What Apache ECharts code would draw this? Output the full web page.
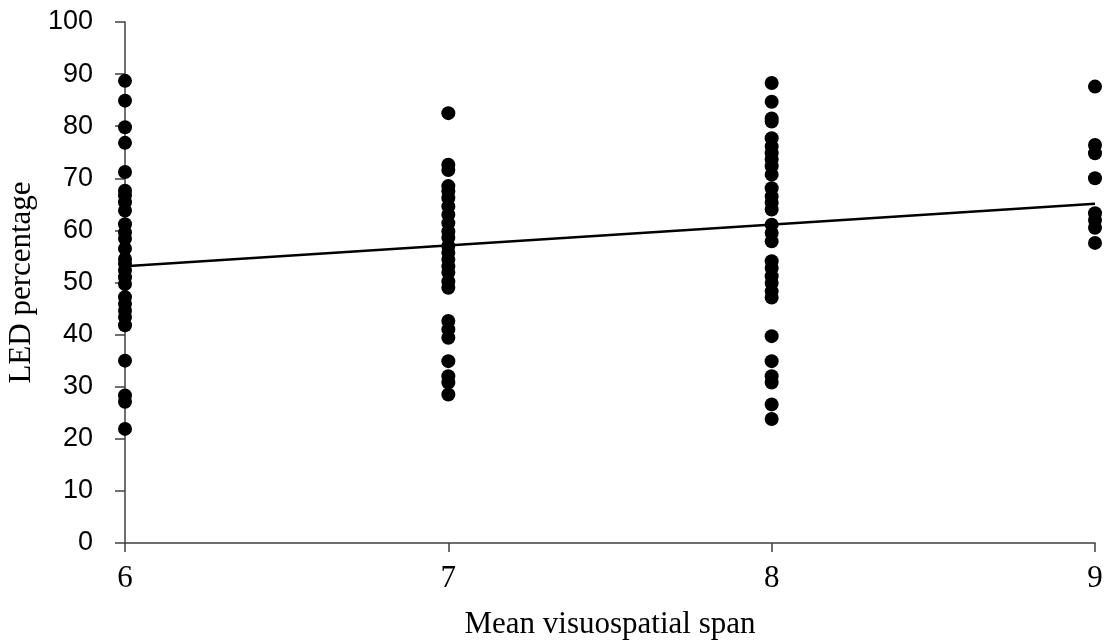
<!DOCTYPE html>
<html>
<head>
<meta charset="utf-8">
<script src="https://cdn.jsdelivr.net/npm/echarts@6/dist/echarts.min.js"></script>
<style>html,body{margin:0;padding:0;background:#fff}#c{width:1105px;height:642px}</style>
</head>
<body>
<div id="c"></div>
<script>
const xTicks = [6, 7, 8, 9];
const yTicks = [0, 10, 20, 30, 40, 50, 60, 70, 80, 90, 100];
const span6 = [88.7, 84.9, 79.8, 76.8, 71.2, 67.6, 66.7, 65.4, 63.8, 61.2, 59.6, 58.4, 56.5, 54.5, 53.6, 52.3, 51.0, 49.7, 47.2, 45.9, 44.6, 43.4, 41.8, 35.0, 28.3, 27.1, 21.9];
const span7 = [82.5, 72.6, 71.6, 68.5, 67.5, 66.2, 64.6, 63.0, 61.4, 59.8, 58.6, 57.0, 55.7, 54.4, 53.1, 51.9, 50.2, 49.0, 42.6, 41.0, 39.4, 34.9, 32.0, 30.8, 28.5];
const span8 = [88.3, 84.7, 81.5, 80.9, 77.7, 76.1, 74.8, 73.6, 72.3, 70.7, 68.1, 66.5, 65.3, 64.0, 61.1, 59.5, 57.9, 54.1, 52.8, 51.2, 49.9, 48.3, 47.1, 39.7, 34.9, 32.0, 30.8, 26.6, 23.8];
const span9 = [87.6, 76.4, 74.8, 70.0, 63.3, 62.0, 60.5, 57.6];
const trendX = [6, 9];
const trendY = [53.1, 65.1];

const groups = [[6, span6], [7, span7], [8, span8], [9, span9]];
const points = [];
groups.forEach(([x, vals]) => vals.forEach(v => points.push([x, v])));

const chart = echarts.init(document.getElementById('c'));
chart.setOption({
  animation: false,
  grid: { left: 125, right: 10, top: 22, bottom: 99, containLabel: false, outerBoundsMode: 'none' },
  xAxis: {
    type: 'value', min: xTicks[0], max: xTicks[xTicks.length - 1], interval: 1,
    name: 'Mean visuospatial span', nameLocation: 'middle', nameGap: 66,
    nameTextStyle: { fontFamily: 'Liberation Serif', fontSize: 31, color: '#000' },
    axisLine: { lineStyle: { color: '#404040', width: 1.5 } },
    axisTick: { show: true, length: 9, lineStyle: { color: '#404040', width: 1.5 } },
    axisLabel: { fontFamily: 'Liberation Serif', fontSize: 31, color: '#000', margin: 20 },
    splitLine: { show: false }
  },
  yAxis: {
    type: 'value', min: yTicks[0], max: yTicks[yTicks.length - 1], interval: 10,
    name: 'LED percentage', nameLocation: 'middle', nameGap: 88, nameRotate: 90,
    nameTextStyle: { fontFamily: 'Liberation Serif', fontSize: 31, color: '#000' },
    axisLine: { show: true, lineStyle: { color: '#404040', width: 1.5 } },
    axisTick: { show: true, length: 10, lineStyle: { color: '#404040', width: 1.5 } },
    axisLabel: { fontFamily: 'Liberation Sans', fontSize: 27, color: '#000', margin: 32 },
    splitLine: { show: false }
  },
  series: [
    {
      type: 'scatter', data: points, symbolSize: 14,
      itemStyle: { color: '#000', opacity: 1 }, z: 3
    },
    {
      type: 'line', data: trendX.map((x, i) => [x, trendY[i]]), symbol: 'none',
      lineStyle: { color: '#000', width: 2.5 }, z: 4
    }
  ]
});
</script>
</body>
</html>
